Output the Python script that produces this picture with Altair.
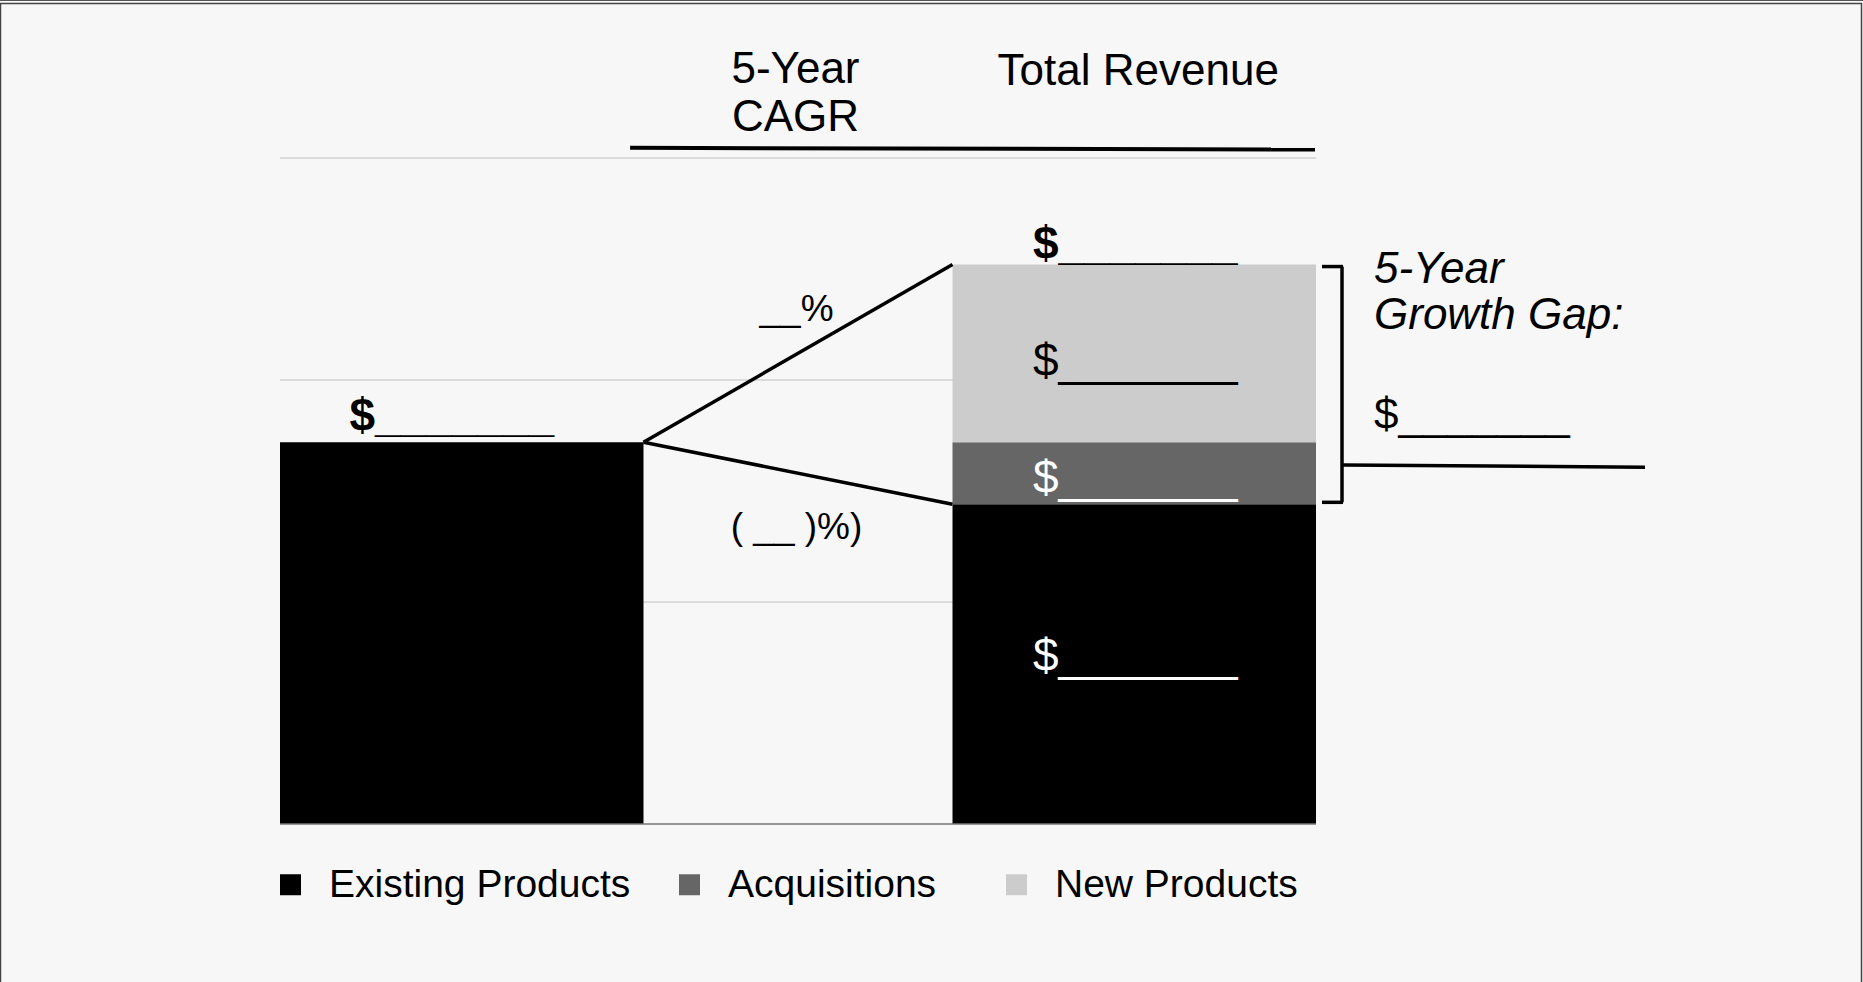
import altair as alt
import pandas as pd

# ---------------- data ----------------
stages = ["Today", "Year 5"]
segments = ["Existing Products", "Acquisitions", "New Products"]
segment_colors = ["#000000", "#666666", "#cccccc"]
today_values = [1.72, 0.0, 0.0]
year5_values = [1.44, 0.28, 0.80]
segment_label_colors = ["#ffffff", "#ffffff", "#000000"]
amount_label = "$_______"
cagr_labels = ["__%", "( __ )%)"]
header_cagr = "5-Year\nCAGR"
header_total = "Total Revenue"
gap_title = "5-Year\nGrowth Gap:"
gap_label = "$_______"
grid_values = [1, 2, 3]

FONT = "Liberation Sans"

rows = []
for stage, vals in zip(stages, [today_values, year5_values]):
    for rank, (seg, v) in enumerate(zip(segments, vals)):
        if v > 0:
            rows.append({"stage": stage, "segment": seg, "value": v, "rank": rank})
bars_df = pd.DataFrame(rows)

today_total = sum(today_values)
year5_existing = year5_values[0]
year5_total = sum(year5_values)

x_scale = alt.Scale(domain=stages, paddingInner=0.4595, paddingOuter=0)
y_scale = alt.Scale(domain=[0, 3], nice=False, zero=True)
color_scale = alt.Scale(domain=segments, range=segment_colors)


def X(field, band=0.5):
    return alt.X(f"{field}:N", scale=x_scale, axis=None, bandPosition=band)


def Y(field):
    return alt.Y(f"{field}:Q", scale=y_scale, axis=None)


# ---------------- page frame (decoration) ----------------
frame_df = pd.DataFrame({"k": [0]})
frame = alt.Chart(frame_df).mark_rect(fill=None, stroke="#444444", strokeWidth=1.5).encode(
    x=alt.value(-279.5), x2=alt.value(1581.5), y=alt.value(-154.5), y2=alt.value(840)
)
frame_top = alt.Chart(frame_df).mark_rule(color="#555555", strokeWidth=1).encode(
    x=alt.value(-280), x2=alt.value(1583), y=alt.value(-157.5)
)

# ---------------- gridlines ----------------
grid_df = pd.DataFrame({"s0": [stages[0]] * len(grid_values),
                        "s1": [stages[1]] * len(grid_values),
                        "g": grid_values})
grid = alt.Chart(grid_df).mark_rule(color="#c0c0c0", strokeWidth=1).encode(
    x=X("s0", 0), x2=alt.X2("s1", bandPosition=1), y=Y("g")
)

# ---------------- bars ----------------
bars = alt.Chart(bars_df).mark_bar(strokeWidth=0).encode(
    x=alt.X("stage:N", scale=x_scale, axis=None),
    y=alt.Y("value:Q", stack="zero", scale=y_scale, axis=None),
    color=alt.Color(
        "segment:N",
        scale=color_scale,
        legend=alt.Legend(
            title=None, orient="bottom", direction="horizontal",
            symbolType="square", symbolSize=441, symbolStrokeWidth=0,
            symbolOffset=-9,
            labelFont=FONT, labelFontSize=39, labelColor="#000000",
            labelOffset=19, labelLimit=1000, columnPadding=48,
            offset=41, padding=0,
            labelExpr="datum.label === 'Acquisitions' ? datum.label + '\u00a0\u00a0\u200b' : datum.label",
        ),
    ),
    order=alt.Order("rank:Q"),
)

# baseline
base_df = pd.DataFrame({"s0": [stages[0]], "s1": [stages[1]], "y": [0]})
baseline = alt.Chart(base_df).mark_rule(color="#777777", strokeWidth=1.5).encode(
    x=X("s0", 0), x2=alt.X2("s1", bandPosition=1), y=Y("y")
)

# CAGR connector lines
cagr_df = pd.DataFrame({
    "s0": [stages[0], stages[0]],
    "s1": [stages[1], stages[1]],
    "y0": [today_total, today_total],
    "y1": [year5_total, year5_existing],
    "label": cagr_labels,
    "ymid": [(today_total + year5_total) / 2, (today_total + year5_existing) / 2],
})
cagr_lines = alt.Chart(cagr_df).mark_rule(color="#000000", strokeWidth=3.5).encode(
    x=X("s0", 1), x2=alt.X2("s1", bandPosition=0), y=Y("y0"), y2=alt.Y2("y1")
)
cagr_up = alt.Chart(cagr_df.iloc[[0]]).mark_text(
    font=FONT, fontSize=37, color="#000000", align="center", baseline="alphabetic", dx=-156, dy=-32
).encode(x=X("s1", 0), y=Y("ymid"), text="label:N")
cagr_down = alt.Chart(cagr_df.iloc[[1]]).mark_text(
    font=FONT, fontSize=37, color="#000000", align="center", baseline="alphabetic", dx=-156, dy=66
).encode(x=X("s1", 0), y=Y("ymid"), text="label:N")

# total labels above bars
tot_today = alt.Chart(pd.DataFrame({"stage": [stages[0]], "y": [today_total], "t": [amount_label]})).mark_text(
    font=FONT, fontSize=46, fontWeight="bold", color="#000000", align="center", baseline="alphabetic", dx=-10, dy=-11
).encode(x=X("stage"), y=Y("y"), text="t:N")
tot_y5 = alt.Chart(pd.DataFrame({"stage": [stages[1]], "y": [year5_total], "t": [amount_label]})).mark_text(
    font=FONT, fontSize=46, fontWeight="bold", color="#000000", align="center", baseline="alphabetic", dx=1, dy=-6
).encode(x=X("stage"), y=Y("y"), text="t:N")

# segment labels in the Year 5 bar
seg_layers = []
cum = 0.0
seg_dy = [-7, 6, 9]
for seg, v, col, d in zip(segments, year5_values, segment_label_colors, seg_dy):
    mid = cum + v / 2
    cum += v
    df = pd.DataFrame({"stage": [stages[1]], "y": [mid], "t": [amount_label]})
    seg_layers.append(
        alt.Chart(df).mark_text(
            font=FONT, fontSize=46, color=col, align="center", baseline="middle", dx=1, dy=d
        ).encode(x=X("stage"), y=Y("y"), text="t:N")
    )

# growth-gap bracket
br_df = pd.DataFrame({"stage": [stages[1]], "top": [year5_total], "bot": [year5_existing],
                      "mid": [(year5_total + year5_existing) / 2], "conn": [1.617], "conn2": [1.607]})
br_vert = alt.Chart(br_df).mark_rule(color="#000000", strokeWidth=3.5, xOffset=26, yOffset=2, y2Offset=-2).encode(
    x=X("stage", 1), y=Y("top"), y2=alt.Y2("bot")
)
br_top = alt.Chart(br_df).mark_rule(color="#000000", strokeWidth=3.5, xOffset=6, x2Offset=27, yOffset=2).encode(
    x=X("stage", 1), x2=alt.X2("stage", bandPosition=1), y=Y("top")
)
br_bot = alt.Chart(br_df).mark_rule(color="#000000", strokeWidth=3.5, xOffset=6, x2Offset=27, yOffset=-2).encode(
    x=X("stage", 1), x2=alt.X2("stage", bandPosition=1), y=Y("bot")
)
br_conn = alt.Chart(br_df).mark_rule(color="#000000", strokeWidth=3.5, xOffset=27, x2Offset=329).encode(
    x=X("stage", 1), x2=alt.X2("stage", bandPosition=1), y=Y("conn"), y2=alt.Y2("conn2")
)
gap_title_t = alt.Chart(br_df.assign(t=[gap_title])).mark_text(
    font=FONT, fontSize=44, fontStyle="italic", color="#000000", align="left", baseline="alphabetic",
    lineBreak="\n", lineHeight=46, dx=58, dy=18
).encode(x=X("stage", 1), y=Y("top"), text="t:N")
gap_label_t = alt.Chart(br_df.assign(t=[gap_label])).mark_text(
    font=FONT, fontSize=44, color="#000000", align="left", baseline="alphabetic", dx=58, dy=45
).encode(x=X("stage", 1), y=Y("mid"), text="t:N")

# headers
hdr_df = pd.DataFrame({"s0": [stages[0]], "s1": [stages[1]], "yc": [3.34], "yt": [3.33],
                       "u0": [3.046], "u1": [3.038], "c": [header_cagr], "t": [header_total]})
hdr_cagr = alt.Chart(hdr_df).mark_text(
    font=FONT, fontSize=44, color="#000000", align="center", baseline="alphabetic",
    lineBreak="\n", lineHeight=48, dx=-157
).encode(x=X("s1", 0), y=Y("yc"), text="c:N")
hdr_total = alt.Chart(hdr_df).mark_text(
    font=FONT, fontSize=44, color="#000000", align="center", baseline="alphabetic", dx=4
).encode(x=X("s1"), y=Y("yt"), text="t:N")
hdr_rule = alt.Chart(hdr_df).mark_rule(color="#000000", strokeWidth=4, x2Offset=-1).encode(
    x=X("s0", 0.963), x2=alt.X2("s1", bandPosition=1), y=Y("u0"), y2=alt.Y2("u1")
)

chart = alt.layer(
    frame, frame_top, grid, bars, baseline, cagr_lines, cagr_up, cagr_down, tot_today, tot_y5, *seg_layers,
    br_vert, br_top, br_bot, br_conn, gap_title_t, gap_label_t, hdr_cagr, hdr_total, hdr_rule,
).properties(
    width=1036,
    height=666,
    padding={"left": 280, "top": 158, "right": 547, "bottom": 158},
    autosize=alt.AutoSizeParams(type="none"),
    background="#f7f7f7",
).configure(font=FONT, view=alt.ViewConfig(stroke=None))

chart.save("out.html", embed_options={"renderer": "svg", "actions": False})
